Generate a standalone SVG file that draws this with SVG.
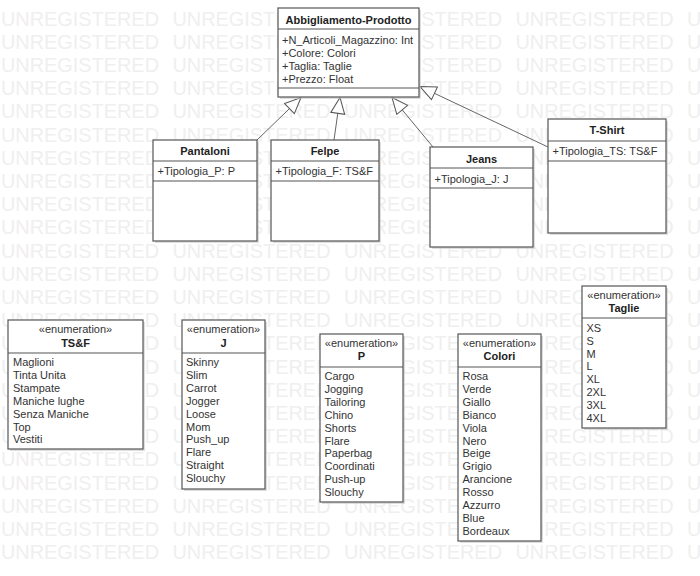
<svg xmlns="http://www.w3.org/2000/svg" xmlns:xlink="http://www.w3.org/1999/xlink" width="700" height="576" viewBox="0 0 700 576">
<style>
.wm{font-family:"Liberation Sans",Arial,sans-serif;font-size:21px;fill:#efefef}
.box{fill:#fff;stroke:#555;stroke-width:1.2}
.shadow{fill:#c8c8c8;opacity:0.6}
.sep{stroke:#555;stroke-width:1.2}
.t{font-family:"Liberation Sans",Arial,sans-serif;font-size:11px;fill:#333}
.b{font-weight:bold;fill:#222}
.c{text-anchor:middle}
.edge{stroke:#666;stroke-width:1;fill:none}
</style>
<defs>
<marker id="gen" markerUnits="userSpaceOnUse" markerWidth="20" markerHeight="18" refX="17" refY="8" orient="auto">
<path d="M1,1 L17,8 L1,15 z" fill="#fff" stroke="#555" stroke-width="1"/>
</marker>
<g id="wmrow">
<text class="wm" x="1" y="0" textLength="158" lengthAdjust="spacingAndGlyphs">UNREGISTERED</text>
<text class="wm" x="172.5" y="0" textLength="158" lengthAdjust="spacingAndGlyphs">UNREGISTERED</text>
<text class="wm" x="344" y="0" textLength="158" lengthAdjust="spacingAndGlyphs">UNREGISTERED</text>
<text class="wm" x="515.5" y="0" textLength="158" lengthAdjust="spacingAndGlyphs">UNREGISTERED</text>
<text class="wm" x="687" y="0" textLength="158" lengthAdjust="spacingAndGlyphs">UNREGISTERED</text>
</g>
</defs>
<rect width="700" height="576" fill="#fff"/>
<g id="watermark">
<use xlink:href="#wmrow" y="25.5"/>
<use xlink:href="#wmrow" y="48.7"/>
<use xlink:href="#wmrow" y="71.9"/>
<use xlink:href="#wmrow" y="95.1"/>
<use xlink:href="#wmrow" y="118.3"/>
<use xlink:href="#wmrow" y="141.5"/>
<use xlink:href="#wmrow" y="164.7"/>
<use xlink:href="#wmrow" y="187.9"/>
<use xlink:href="#wmrow" y="211.1"/>
<use xlink:href="#wmrow" y="234.3"/>
<use xlink:href="#wmrow" y="257.5"/>
<use xlink:href="#wmrow" y="280.7"/>
<use xlink:href="#wmrow" y="303.9"/>
<use xlink:href="#wmrow" y="327.1"/>
<use xlink:href="#wmrow" y="350.3"/>
<use xlink:href="#wmrow" y="373.5"/>
<use xlink:href="#wmrow" y="396.7"/>
<use xlink:href="#wmrow" y="419.9"/>
<use xlink:href="#wmrow" y="443.1"/>
<use xlink:href="#wmrow" y="466.3"/>
<use xlink:href="#wmrow" y="489.5"/>
<use xlink:href="#wmrow" y="512.7"/>
<use xlink:href="#wmrow" y="535.9"/>
<use xlink:href="#wmrow" y="559.1"/>
</g>

<g id="connectors">
<line class="edge" x1="257" y1="140" x2="301" y2="97.5" marker-end="url(#gen)"/>
<line class="edge" x1="334" y1="140" x2="340" y2="97.5" marker-end="url(#gen)"/>
<line class="edge" x1="433" y1="147" x2="392" y2="97.5" marker-end="url(#gen)"/>
<line class="edge" x1="548" y1="147" x2="420" y2="86.5" marker-end="url(#gen)"/>
</g>

<g id="abbigliamento">
<rect class="shadow" x="280" y="10" width="141" height="89"/>
<rect class="box" x="278" y="8" width="141" height="89"/>
<line class="sep" x1="278" y1="29" x2="419" y2="29"/>
<line class="sep" x1="278" y1="88" x2="419" y2="88"/>
<text class="t b c" x="348.5" y="24">Abbigliamento-Prodotto</text>
<text class="t" x="282" y="43.5">+N_Articoli_Magazzino: Int</text>
<text class="t" x="282" y="56.5">+Colore: Colori</text>
<text class="t" x="282" y="69.5">+Taglia: Taglie</text>
<text class="t" x="282" y="82.5">+Prezzo: Float</text>
</g>

<g id="pantaloni">
<rect class="shadow" x="155" y="142" width="104" height="101"/>
<rect class="box" x="153" y="140" width="104" height="101"/>
<line class="sep" x1="153" y1="161" x2="257" y2="161"/>
<line class="sep" x1="153" y1="181" x2="257" y2="181"/>
<text class="t b c" x="205" y="155">Pantaloni</text>
<text class="t" x="157.5" y="175">+Tipologia_P: P</text>
</g>

<g id="felpe">
<rect class="shadow" x="273" y="142" width="108" height="101"/>
<rect class="box" x="271" y="140" width="108" height="101"/>
<line class="sep" x1="271" y1="161" x2="379" y2="161"/>
<line class="sep" x1="271" y1="181" x2="379" y2="181"/>
<text class="t b c" x="325" y="155">Felpe</text>
<text class="t" x="275.5" y="175">+Tipologia_F: TS&amp;F</text>
</g>

<g id="jeans">
<rect class="shadow" x="432" y="149" width="103" height="100"/>
<rect class="box" x="430" y="147" width="103" height="100"/>
<line class="sep" x1="430" y1="168" x2="533" y2="168"/>
<line class="sep" x1="430" y1="188" x2="533" y2="188"/>
<text class="t b c" x="481.5" y="162.5">Jeans</text>
<text class="t" x="434.5" y="182.5">+Tipologia_J: J</text>
</g>

<g id="tshirt">
<rect class="shadow" x="550" y="121" width="118" height="114"/>
<rect class="box" x="548" y="119" width="118" height="114"/>
<line class="sep" x1="548" y1="141" x2="666" y2="141"/>
<line class="sep" x1="548" y1="161" x2="666" y2="161"/>
<text class="t b c" x="607" y="134">T-Shirt</text>
<text class="t" x="552.5" y="154.5">+Tipologia_TS: TS&amp;F</text>
</g>

<g id="enum-tsf">
<rect class="shadow" x="10" y="322" width="135" height="129"/>
<rect class="box" x="8" y="320" width="135" height="129"/>
<line class="sep" x1="8" y1="353" x2="143" y2="353"/>
<text class="t c" x="75.5" y="333">«enumeration»</text>
<text class="t b c" x="75.5" y="346.5">TS&amp;F</text>
<text class="t" x="13" y="366">Maglioni</text>
<text class="t" x="13" y="379">Tinta Unita</text>
<text class="t" x="13" y="391.8">Stampate</text>
<text class="t" x="13" y="404.7">Maniche lughe</text>
<text class="t" x="13" y="417.6">Senza Maniche</text>
<text class="t" x="13" y="430.5">Top</text>
<text class="t" x="13" y="443.4">Vestiti</text>
</g>

<g id="enum-j">
<rect class="shadow" x="184" y="322" width="83" height="169"/>
<rect class="box" x="182" y="320" width="83" height="169"/>
<line class="sep" x1="182" y1="353" x2="265" y2="353"/>
<text class="t c" x="223.5" y="333">«enumeration»</text>
<text class="t b c" x="223.5" y="346.5">J</text>
<text class="t" x="186" y="366">Skinny</text>
<text class="t" x="186" y="379">Slim</text>
<text class="t" x="186" y="391.8">Carrot</text>
<text class="t" x="186" y="404.7">Jogger</text>
<text class="t" x="186" y="417.6">Loose</text>
<text class="t" x="186" y="430.5">Mom</text>
<text class="t" x="186" y="443.4">Push_up</text>
<text class="t" x="186" y="456.3">Flare</text>
<text class="t" x="186" y="469.2">Straight</text>
<text class="t" x="186" y="482.1">Slouchy</text>
</g>

<g id="enum-p">
<rect class="shadow" x="322" y="336" width="83" height="168"/>
<rect class="box" x="320" y="334" width="83" height="168"/>
<line class="sep" x1="320" y1="367" x2="403" y2="367"/>
<text class="t c" x="361.5" y="347">«enumeration»</text>
<text class="t b c" x="361.5" y="360">P</text>
<text class="t" x="324.5" y="380">Cargo</text>
<text class="t" x="324.5" y="392.9">Jogging</text>
<text class="t" x="324.5" y="405.8">Tailoring</text>
<text class="t" x="324.5" y="418.7">Chino</text>
<text class="t" x="324.5" y="431.6">Shorts</text>
<text class="t" x="324.5" y="444.5">Flare</text>
<text class="t" x="324.5" y="457.4">Paperbag</text>
<text class="t" x="324.5" y="470.3">Coordinati</text>
<text class="t" x="324.5" y="483.2">Push-up</text>
<text class="t" x="324.5" y="496.1">Slouchy</text>
</g>

<g id="enum-colori">
<rect class="shadow" x="460" y="336" width="83" height="207"/>
<rect class="box" x="458" y="334" width="83" height="207"/>
<line class="sep" x1="458" y1="367" x2="541" y2="367"/>
<text class="t c" x="499.5" y="347">«enumeration»</text>
<text class="t b c" x="499.5" y="360">Colori</text>
<text class="t" x="462.5" y="380">Rosa</text>
<text class="t" x="462.5" y="392.9">Verde</text>
<text class="t" x="462.5" y="405.8">Giallo</text>
<text class="t" x="462.5" y="418.7">Bianco</text>
<text class="t" x="462.5" y="431.6">Viola</text>
<text class="t" x="462.5" y="444.5">Nero</text>
<text class="t" x="462.5" y="457.4">Beige</text>
<text class="t" x="462.5" y="470.3">Grigio</text>
<text class="t" x="462.5" y="483.2">Arancione</text>
<text class="t" x="462.5" y="496.1">Rosso</text>
<text class="t" x="462.5" y="509">Azzurro</text>
<text class="t" x="462.5" y="521.9">Blue</text>
<text class="t" x="462.5" y="534.8">Bordeaux</text>
</g>

<g id="enum-taglie">
<rect class="shadow" x="584" y="288" width="84" height="142"/>
<rect class="box" x="582" y="286" width="84" height="142"/>
<line class="sep" x1="582" y1="318" x2="666" y2="318"/>
<text class="t c" x="624" y="299">«enumeration»</text>
<text class="t b c" x="624" y="311.5">Taglie</text>
<text class="t" x="586.5" y="332">XS</text>
<text class="t" x="586.5" y="344.8">S</text>
<text class="t" x="586.5" y="357.6">M</text>
<text class="t" x="586.5" y="370.4">L</text>
<text class="t" x="586.5" y="383.2">XL</text>
<text class="t" x="586.5" y="396">2XL</text>
<text class="t" x="586.5" y="408.8">3XL</text>
<text class="t" x="586.5" y="421.6">4XL</text>
</g>
</svg>
